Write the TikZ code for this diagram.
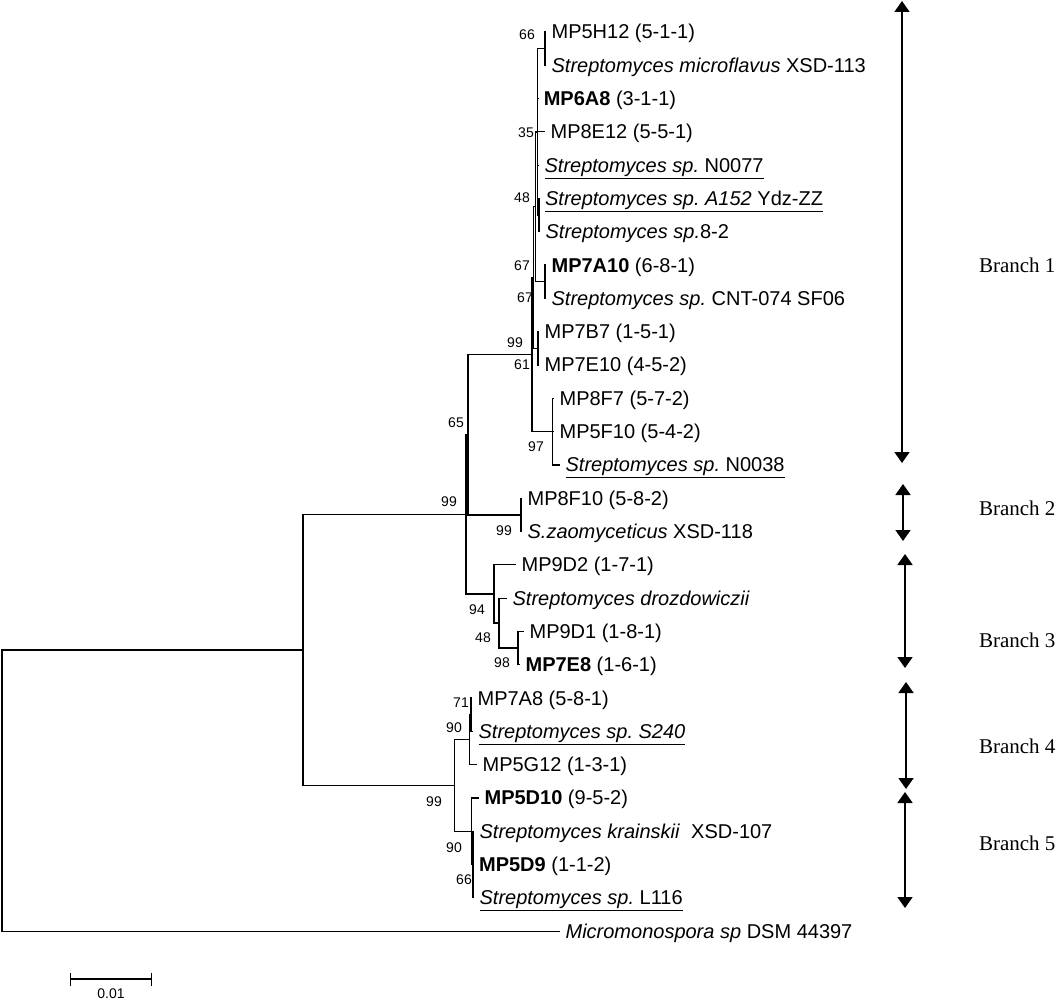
\documentclass[tikz,border=0pt]{standalone}
\usepackage{fontspec}
\setmainfont{Liberation Sans}
\newfontfamily\brserif{Liberation Serif}
\usetikzlibrary{arrows.meta, positioning}

\begin{document}
\begin{tikzpicture}[x=1pt, y=-1pt, line width=1.2pt,
  leaf/.style = {anchor=west, inner xsep=5pt, inner ysep=0pt,
    text height=14pt, text depth=0pt, font=\fontsize{20}{22}\selectfont},
  boot/.style = {inner sep=0pt, font=\fontsize{14}{16}\selectfont},
  clade/.style = {line width=1.8pt, >={Triangle[width=15pt,length=11pt]}, <->},
  brlabel/.style = {anchor=east, inner sep=0pt, font=\brserif\fontsize{21}{24}\selectfont}]
\useasboundingbox (0,0) rectangle (1058,1000);

% internal nodes of the tree
\coordinate (root) at (2,650);
\coordinate (nA) at (303,649.9);
\coordinate (nB) at (466,514.3);
\coordinate (nC) at (468,434.7);
\coordinate (nN1) at (532,354.6);
\coordinate (nU) at (533.5,277.6);
\coordinate (nT) at (535.5,206.9);
\coordinate (nS) at (537.7,132);
\coordinate (n66) at (545,48.7);
\coordinate (n48) at (539,215.2);
\coordinate (n67) at (545,281.8);
\coordinate (nW) at (538,348.4);
\coordinate (n97) at (552.7,431.6);
\coordinate (nJ) at (521,514.9);
\coordinate (nK) at (494,593.9);
\coordinate (nL) at (499,623);
\coordinate (nM) at (518,648);
\coordinate (nD) at (454.5,785.4);
\coordinate (nE) at (469.5,739.6);
\coordinate (nF) at (471,714.6);
\coordinate (nG) at (471.7,831.2);
\coordinate (nH) at (473,864.5);

% leaves, branch 1
\node[leaf] (mp5h12) at (546,32) {MP5H12 (5-1-1)};
\node[leaf] (microflavus) at (546,65.3) {\textit{Streptomyces microflavus} XSD-113};
\node[leaf] (mp6a8) at (538.2,98.6) {\textbf{MP6A8} (3-1-1)};
\node[leaf] (mp8e12) at (545,131.9) {MP8E12 (5-5-1)};
\node[leaf] (n0077) at (539,165.2) {\underline{\textit{Streptomyces sp.}\ N0077}};
\node[leaf] (a152) at (539.5,198.5) {\underline{\textit{Streptomyces sp.\ A152} Ydz-ZZ}};
\node[leaf] (sp82) at (540,231.8) {\textit{Streptomyces sp.}8-2};
\node[leaf] (mp7a10) at (546,265.1) {\textbf{MP7A10} (6-8-1)};
\node[leaf] (cnt074) at (546,298.4) {\textit{Streptomyces sp.}\ CNT-074 SF06};
\node[leaf] (mp7b7) at (539,331.7) {MP7B7 (1-5-1)};
\node[leaf] (mp7e10) at (539,365) {MP7E10 (4-5-2)};
\node[leaf] (mp8f7) at (554,398.3) {MP8F7 (5-7-2)};
\node[leaf] (mp5f10) at (554,431.6) {MP5F10 (5-4-2)};
\node[leaf] (n0038) at (560,464.9) {\underline{\textit{Streptomyces sp.}\ N0038}};
% branch 2
\node[leaf] (mp8f10) at (522,498.2) {MP8F10 (5-8-2)};
\node[leaf] (zaomyceticus) at (522,531.5) {\textit{S.zaomyceticus} XSD-118};
% branch 3
\node[leaf] (mp9d2) at (516,564.8) {MP9D2 (1-7-1)};
\node[leaf] (drozdowiczii) at (507,598.1) {\textit{Streptomyces drozdowiczii}};
\node[leaf] (mp9d1) at (524,631.4) {MP9D1 (1-8-1)};
\node[leaf] (mp7e8) at (520,664.7) {\textbf{MP7E8} (1-6-1)};
% branch 4
\node[leaf] (mp7a8) at (472,698) {MP7A8 (5-8-1)};
\node[leaf] (s240) at (473,731.3) {\underline{\textit{Streptomyces sp.\ S240}}};
\node[leaf] (mp5g12) at (477,764.6) {MP5G12 (1-3-1)};
% branch 5
\node[leaf] (mp5d10) at (479,797.9) {\textbf{MP5D10} (9-5-2)};
\node[leaf] (krainskii) at (474,831.2) {\textit{Streptomyces krainskii}\ \ XSD-107};
\node[leaf] (mp5d9) at (473.5,864.5) {\textbf{MP5D9} (1-1-2)};
\node[leaf] (l116) at (474,897.8) {\underline{\textit{Streptomyces sp.}\ L116}};
% outgroup
\node[leaf] (micromonospora) at (560,931.1) {\textit{Micromonospora sp} DSM 44397};

% branches
\draw (root) |- (nA);
\draw (root) |- (micromonospora);
\draw (nA) |- (nB);
\draw (nA) |- (nD);
\draw (nB) |- (nC);
\draw (nB) |- (nK);
\draw (nC) |- (nN1);
\draw (nC) |- (nJ);
\draw (nN1) |- (nU);
\draw (nN1) |- (n97);
\draw (nU) |- (nT);
\draw (nU) |- (nW);
\draw (nT) |- (nS);
\draw (nT) |- (n67);
\draw (nS) |- (n66);
\draw (nS) |- (mp6a8);
\draw (nS) |- (mp8e12);
\draw (nS) |- (n0077);
\draw (nS) |- (n48);
\draw (n66) |- (mp5h12);
\draw (n66) |- (microflavus);
\draw (n48) |- (a152);
\draw (n48) |- (sp82);
\draw (n67) |- (mp7a10);
\draw (n67) |- (cnt074);
\draw (nW) |- (mp7b7);
\draw (nW) |- (mp7e10);
\draw (n97) |- (mp8f7);
\draw (n97) |- (mp5f10);
\draw (n97) |- (n0038);
\draw (nJ) |- (mp8f10);
\draw (nJ) |- (zaomyceticus);
\draw (nK) |- (mp9d2);
\draw (nK) |- (nL);
\draw (nL) |- (drozdowiczii);
\draw (nL) |- (nM);
\draw (nM) |- (mp9d1);
\draw (nM) |- (mp7e8);
\draw (nD) |- (nE);
\draw (nD) |- (nG);
\draw (nE) |- (nF);
\draw (nE) |- (mp5g12);
\draw (nF) |- (mp7a8);
\draw (nF) |- (s240);
\draw (nG) |- (mp5d10);
\draw (nG) |- (nH);
\draw (nH) |- (krainskii);
\draw (nH) |- (mp5d9);
\draw (nH) |- (l116);

% bootstrap values
\node[boot] (b66a) at (527,35) {66};
\node[boot] (b35) at (526,133) {35};
\node[boot] (b48a) at (522,198) {48};
\node[boot] (b67a) at (522,266) {67};
\node[boot] (b67b) at (525,298) {67};
\node[boot] (b99a) at (515,343) {99};
\node[boot] (b61) at (522,365) {61};
\node[boot] (b97) at (536,447) {97};
\node[boot] (b65) at (456,423) {65};
\node[boot] (b99b) at (449,502) {99};
\node[boot] (b99c) at (504,531) {99};
\node[boot] (b94) at (477,610) {94};
\node[boot] (b48b) at (483,638) {48};
\node[boot] (b98) at (502,663) {98};
\node[boot] (b71) at (461,703) {71};
\node[boot] (b90a) at (454,728) {90};
\node[boot] (b99d) at (434,802) {99};
\node[boot] (b90b) at (454,848) {90};
\node[boot] (b66b) at (464,880) {66};

% scale bar
\coordinate (sb1) at (70,979);
\coordinate (sb2) at (152,979);
\draw[arrows={Bar[width=13pt]-Bar[width=13pt]}] (sb1) -- (sb2);
\node[boot] (sblabel) at (111,994) {0.01};

% clade brackets
\coordinate (c1t) at (902,1);
\coordinate (c1b) at (902,463);
\coordinate (c2t) at (903,484);
\coordinate (c2b) at (903,541);
\coordinate (c3t) at (905,554);
\coordinate (c3b) at (905,668);
\coordinate (c4t) at (906,682);
\coordinate (c4b) at (906,789);
\coordinate (c5t) at (905,792);
\coordinate (c5b) at (905,908);
\draw[clade] (c1t) -- (c1b);
\draw[clade] (c2t) -- (c2b);
\draw[clade] (c3t) -- (c3b);
\draw[clade] (c4t) -- (c4b);
\draw[clade] (c5t) -- (c5b);
\node[brlabel] (br1) at (1056,265) {Branch 1};
\node[brlabel] (br2) at (1056,508) {Branch 2};
\node[brlabel] (br3) at (1056,640) {Branch 3};
\node[brlabel] (br4) at (1056,746) {Branch 4};
\node[brlabel] (br5) at (1056,843) {Branch 5};
\end{tikzpicture}
\end{document}
